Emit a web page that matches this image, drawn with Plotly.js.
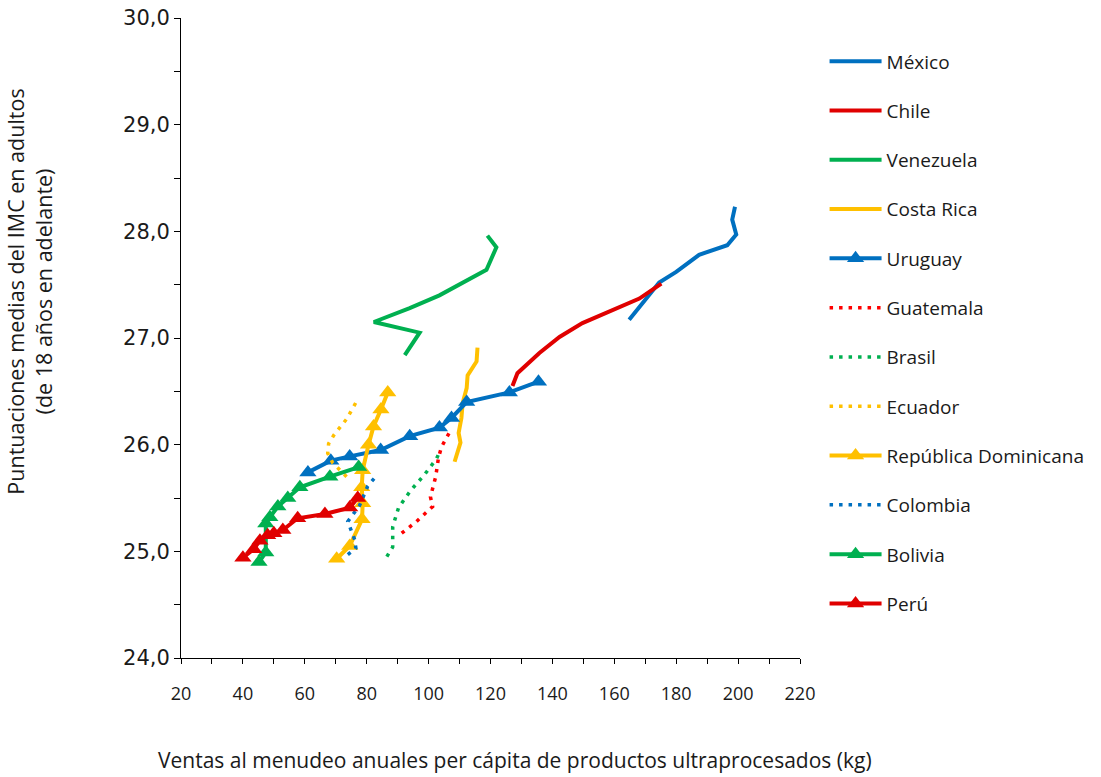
<!DOCTYPE html>
<html>
<head>
<meta charset="utf-8">
<script src="https://cdn.plot.ly/plotly-3.0.1.min.js"></script>
<style>html,body{margin:0;padding:0;background:#fff;}#chart{width:1101px;height:777px;}</style>
</head>
<body>
<div id="chart"></div>
<script>
// Data (x: kg per capita, y: mean BMI)
const mexicoX = [164.8, 169.7, 174.5, 180.0, 187.4, 196.5, 199.4, 198.1, 199.0];
const mexicoY = [27.17, 27.34, 27.52, 27.62, 27.78, 27.87, 27.97, 28.11, 28.23];

const chileX = [127.1, 128.7, 135.8, 142.3, 149.7, 159.4, 168.1, 175.2];
const chileY = [26.55, 26.67, 26.86, 27.01, 27.14, 27.26, 27.37, 27.51];

const venezuelaX = [92.3, 97.1, 82.3, 93.9, 103.5, 118.7, 121.9, 119.0];
const venezuelaY = [26.84, 27.05, 27.15, 27.28, 27.40, 27.64, 27.85, 27.96];

const costaRicaX = [108.4, 110.3, 109.7, 110.6, 111.0, 112.3, 112.6, 115.5, 115.8];
const costaRicaY = [25.84, 26.02, 26.11, 26.25, 26.39, 26.53, 26.65, 26.78, 26.91];

const uruguayX = [61.0, 68.4, 74.5, 84.5, 93.9, 103.5, 107.4, 112.3, 126.1, 135.5];
const uruguayY = [25.74, 25.85, 25.89, 25.95, 26.08, 26.16, 26.25, 26.40, 26.49, 26.59];

const guatemalaX = [91.3, 96.1, 98.7, 101.3, 100.6, 102.3, 103.2, 104.2, 107.4];
const guatemalaY = [25.17, 25.28, 25.35, 25.42, 25.51, 25.70, 25.88, 25.98, 26.15];

const brasilX = [86.5, 88.4, 88.4, 90.3, 94.2, 98.7, 102.6, 103.8];
const brasilY = [24.95, 25.04, 25.23, 25.41, 25.57, 25.72, 25.87, 25.95];

const ecuadorX = [73.5, 69.0, 67.4, 67.7, 69.4, 73.5, 76.8];
const ecuadorY = [25.70, 25.83, 25.92, 26.01, 26.09, 26.24, 26.41];

const repDomX = [70.3, 74.5, 78.5, 78.7, 78.4, 78.7, 80.6, 82.2, 84.6, 86.8];
const repDomY = [24.93, 25.05, 25.30, 25.45, 25.60, 25.76, 26.00, 26.17, 26.33, 26.49];

const colombiaX = [73.9, 76.5, 76.1, 75.2, 73.9, 77.7, 79.0, 80.3, 82.6];
const colombiaY = [24.97, 25.03, 25.11, 25.19, 25.28, 25.43, 25.53, 25.61, 25.69];

const boliviaX = [45.2, 47.4, 47.4, 48.7, 51.3, 54.5, 58.4, 68.1, 77.4];
const boliviaY = [24.90, 24.99, 25.26, 25.32, 25.42, 25.50, 25.60, 25.70, 25.79];

const peruX = [40.0, 43.5, 45.5, 48.0, 50.0, 52.9, 57.7, 66.5, 74.5, 77.1];
const peruY = [24.94, 25.02, 25.10, 25.15, 25.17, 25.20, 25.31, 25.35, 25.41, 25.50];

const names = ["México", "Chile", "Venezuela", "Costa Rica", "Uruguay", "Guatemala",
  "Brasil", "Ecuador", "República Dominicana", "Colombia", "Bolivia", "Perú"];

const xTickVals = [20, 40, 60, 80, 100, 120, 140, 160, 180, 200, 220];
const yTickVals = [24, 25, 26, 27, 28, 29, 30];

const xTitle = "Ventas al menudeo anuales per cápita de productos ultraprocesados (kg)";
const yTitle = "Puntuaciones medias del IMC en adultos<br>(de 18 años en adelante)";

const BLUE = "#0070C0", RED = "#E00000", BRIGHTRED = "#FF0000", GREEN = "#00B050", YELLOW = "#FFC000";
const TXT = "#1a1a1a";

function solid(x, y, name, color) {
  return {x, y, name, type: "scatter", mode: "lines", legendgroup: name,
    line: {color, width: 4}};
}
function dotted(x, y, name, color) {
  return {x, y, name, type: "scatter", mode: "lines", legendgroup: name,
    line: {color, width: 3.5, dash: "3.5px,6px"}};
}
function tri(x, y, name, color) {
  return {x, y, name, type: "scatter", mode: "lines+markers", legendgroup: name,
    line: {color, width: 4},
    marker: {symbol: "triangle-up", size: 15, color}};
}

const traces = [
  solid(mexicoX, mexicoY, names[0], BLUE),
  solid(chileX, chileY, names[1], RED),
  solid(venezuelaX, venezuelaY, names[2], GREEN),
  solid(costaRicaX, costaRicaY, names[3], YELLOW),
  tri(uruguayX, uruguayY, names[4], BLUE),
  dotted(guatemalaX, guatemalaY, names[5], BRIGHTRED),
  dotted(brasilX, brasilY, names[6], GREEN),
  dotted(ecuadorX, ecuadorY, names[7], YELLOW),
  tri(repDomX, repDomY, names[8], YELLOW),
  dotted(colombiaX, colombiaY, names[9], BLUE),
  tri(boliviaX, boliviaY, names[10], GREEN),
  tri(peruX, peruY, names[11], RED)
];

const FONT = "Open Sans, Noto Sans, sans-serif";

const layout = {
  width: 1101, height: 777,
  margin: {l: 181, r: 300, t: 18, b: 119},
  paper_bgcolor: "#fff", plot_bgcolor: "#fff",
  separators: ",.",
  font: {family: FONT, color: TXT, size: 16},
  showlegend: true,
  legend: {x: 1.038, y: 0.962, xanchor: "left", yanchor: "top",
    font: {size: 19, family: FONT, color: TXT},
    tracegroupgap: 21.6, traceorder: "grouped", itemwidth: 52},
  xaxis: {range: [20, 220], tickvals: xTickVals, showgrid: false, zeroline: false,
    showline: true, linecolor: "#000", linewidth: 1,
    ticks: "outside", ticklen: 5, tickcolor: "#000",
    minor: {dtick: 10, ticks: "outside", ticklen: 5, tickcolor: "#000"},
    ticklabelstandoff: 14,
    tickfont: {size: 18, family: FONT, color: TXT}},
  yaxis: {range: [24, 30], tickvals: yTickVals, tickformat: ".1f", showgrid: false, zeroline: false,
    showline: true, linecolor: "#000", linewidth: 1,
    ticks: "outside", ticklen: 6, tickcolor: "#000",
    minor: {dtick: 0.5, ticks: "outside", ticklen: 6, tickcolor: "#000"},
    tickfont: {size: 21, family: "DejaVu Sans, Verdana, sans-serif", color: TXT}},
  annotations: [
    {text: xTitle, xref: "paper", yref: "paper", x: 0.539, y: -0.159,
      xanchor: "center", yanchor: "middle", showarrow: false,
      font: {size: 21, family: FONT, color: TXT}},
    {text: yTitle, xref: "paper", yref: "paper", x: -0.245, y: 0.573,
      xanchor: "center", yanchor: "middle", showarrow: false, textangle: -90,
      font: {size: 21.5, family: FONT, color: TXT}}
  ]
};

Plotly.newPlot("chart", traces, layout, {displayModeBar: false, staticPlot: true});
</script>
</body>
</html>
